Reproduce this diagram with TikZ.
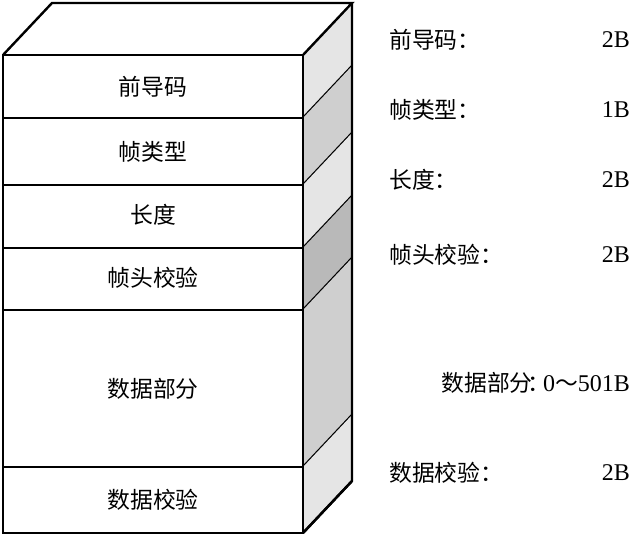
\documentclass[tikz,border=0pt]{standalone}
\usepackage{fontspec}
\setmainfont{Liberation Serif}
\newfontfamily\cjk{Noto Sans CJK SC}[Scale=0.95]
\begin{document}
\begin{tikzpicture}[x=1pt,y=-1pt,line width=2.4pt,line join=miter,
  lab/.style={font=\fontsize{24}{26}\selectfont\cjk,anchor=west,inner sep=0pt},
  val/.style={font=\fontsize{24}{26}\selectfont,anchor=east,inner sep=0pt},
  mid/.style={font=\fontsize{24}{26}\selectfont\cjk,inner sep=0pt}]
\useasboundingbox (0,0) rectangle (631,538);
\def\dx{49}\def\dy{52}
% side face bands
\foreach \a/\b/\c in {55/118/gray!20,118/185/gray!38,185/248/gray!20,248/310/gray!55,310/467/gray!38,467/533/gray!20}{
  \fill[\c] (303,\a) -- (303+\dx,\a-\dy) -- (303+\dx,\b-\dy) -- (303,\b) -- cycle;
  \draw (303,\b) -- (303+\dx,\b-\dy);
}
\draw (3,55) -- (3+\dx,55-\dy) -- (303+\dx,55-\dy) -- (303,55);
\draw (303+\dx,55-\dy) -- (303+\dx,533-\dy) -- (303,533);
\draw (3,55) rectangle (303,533);
\foreach \y in {118,185,248,310,467} \draw (3,\y) -- (303,\y);
\node[mid] (f1) at (153,87) {前导码};
\node[mid] (f2) at (153,152) {帧类型};
\node[mid] (f3) at (153,215) {长度};
\node[mid] (f4) at (153,278) {帧头校验};
\node[mid] (f5) at (153,389) {数据部分};
\node[mid] (f6) at (153,500) {数据校验};
\node[lab] (l1) at (388,40) {前导码：};
\node[lab] (l2) at (388,110) {帧类型：};
\node[lab] (l3) at (388,180) {长度：};
\node[lab] (l4) at (388,255) {帧头校验：};
\node[lab] (l6) at (388,473) {数据校验：};
\node[val] (v1) at (631,40) {2B};
\node[val] (v2) at (631,110) {1B};
\node[val] (v3) at (631,180) {2B};
\node[val] (v4) at (631,255) {2B};
\node[val] (v5) at (631,383) {{\cjk 数据部分\kern-0.25em：\kern-0.3em}0{\cjk～}501B};
\node[val] (v6) at (631,473) {2B};
\end{tikzpicture}
\end{document}
